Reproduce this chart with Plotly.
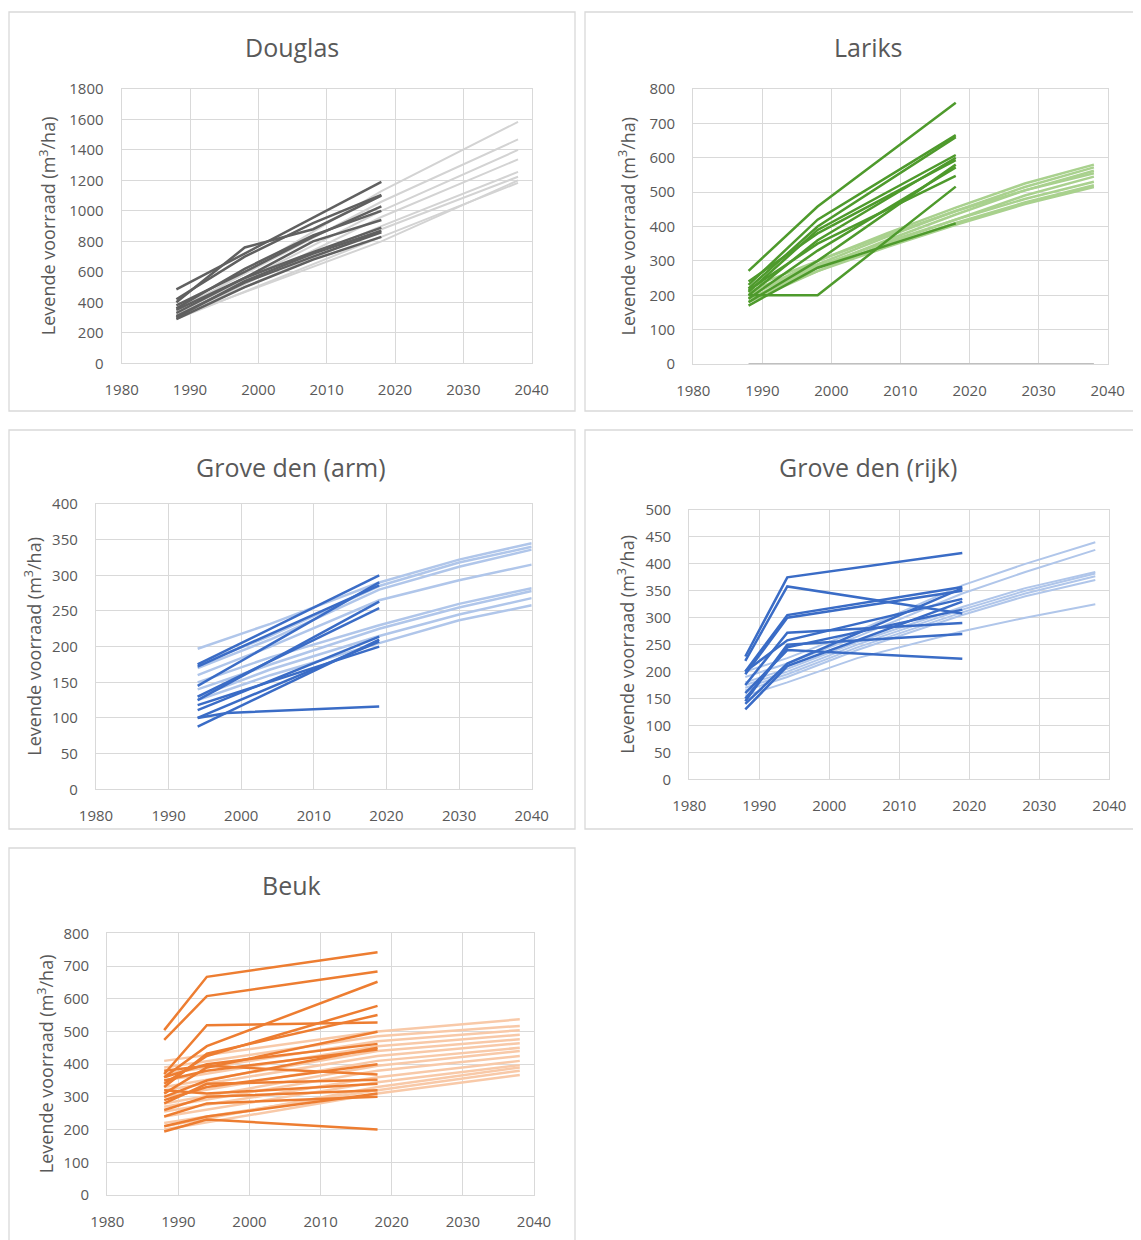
import plotly.graph_objects as go

# ---------------- DATA ----------------
# Douglas
douglas_model_years = [1988, 2018, 2038]
douglas_model = [
    [330, 1130, 1584],
    [350, 1060, 1469],
    [320, 1000, 1400],
    [300, 960, 1338],
    [340, 900, 1256],
    [310, 880, 1224],
    [290, 830, 1184],
    [300, 800, 1200],
]
douglas_meas_years = [1988, 1998, 2008, 2018]
douglas_meas = [
    [485, 720, 960, 1190],
    [420, 700, 920, 1105],
    [400, 760, 880, 1100],
    [380, 600, 830, 1030],
    [360, 620, 840, 1000],
    [350, 560, 800, 940],
    [330, 560, 730, 890],
    [310, 530, 700, 860],
    [290, 500, 680, 830],
    [300, 540, 720, 870],
]

# Lariks
lariks_model_years = [1988, 1998, 2008, 2018, 2028, 2038]
lariks_model = [
    [200, 300, 380, 455, 525, 580],
    [210, 290, 370, 445, 515, 572],
    [190, 280, 360, 435, 505, 562],
    [220, 300, 375, 445, 505, 555],
    [180, 270, 350, 420, 490, 545],
    [200, 285, 355, 420, 480, 530],
    [190, 270, 340, 405, 465, 515],
    [210, 280, 345, 410, 470, 520],
]
lariks_zero_years = [1988, 2038]
lariks_zero = [0, 0]
lariks_meas_years = [1988, 1998, 2018]
lariks_meas = [
    [271, 458, 760],
    [230, 420, 666],
    [220, 400, 660],
    [210, 390, 608],
    [200, 360, 600],
    [240, 380, 593],
    [190, 330, 572],
    [215, 350, 547],
    [200, 200, 516],
    [170, 280, 409],
    [180, 300, 580],
]

# Grove den (arm)
arm_model_years = [1994, 2004, 2019, 2030, 2040]
arm_model = [
    [197, 232, 290, 322, 345],
    [175, 215, 285, 318, 340],
    [170, 210, 280, 312, 336],
    [160, 200, 265, 293, 315],
    [150, 185, 230, 260, 282],
    [140, 175, 225, 255, 278],
    [130, 168, 215, 245, 268],
    [125, 160, 205, 237, 258],
]
arm_meas = [
    ([1994, 2019], [175, 300]),
    ([1994, 2019], [172, 286]),
    ([1994, 2019], [145, 290]),
    ([1994, 2019], [125, 263]),
    ([1994, 2019], [130, 254]),
    ([1994, 2019], [111, 214]),
    ([1994, 2019], [100, 207]),
    ([1994, 2019], [88, 210]),
    ([1994, 2019], [118, 200]),
    ([1994, 1998, 2019], [100, 107, 116]),
]

# Grove den (rijk)
rijk_model_years = [1988, 1994, 2004, 2019, 2028, 2038]
rijk_model = [
    [200, 225, 275, 360, 400, 440],
    [190, 215, 265, 345, 385, 426],
    [180, 205, 255, 320, 355, 385],
    [170, 195, 245, 310, 345, 377],
    [165, 190, 240, 305, 340, 370],
    [155, 180, 225, 275, 300, 325],
    [175, 200, 250, 315, 350, 382],
]
rijk_meas_years = [1988, 1994, 2019]
rijk_meas = [
    [228, 375, 420],
    [220, 358, 308],
    [200, 305, 357],
    [195, 300, 350],
    [175, 272, 290],
    [200, 258, 335],
    [145, 250, 270],
    [160, 240, 224],
    [140, 215, 355],
    [130, 210, 330],
    [150, 245, 315],
]

# Beuk
beuk_model_years = [1988, 2018, 2038]
beuk_model = [
    [410, 500, 537],
    [390, 485, 517],
    [370, 470, 504],
    [350, 455, 490],
    [330, 440, 476],
    [320, 425, 464],
    [300, 410, 450],
    [280, 395, 440],
    [270, 380, 425],
    [255, 360, 410],
    [240, 345, 397],
    [220, 320, 380],
    [200, 310, 367],
    [210, 330, 390],
]
beuk_meas_years = [1988, 1994, 2018]
beuk_meas = [
    [504, 667, 742],
    [474, 608, 683],
    [360, 455, 652],
    [370, 519, 527],
    [340, 425, 578],
    [330, 432, 550],
    [310, 390, 499],
    [360, 400, 462],
    [300, 350, 450],
    [350, 380, 445],
    [290, 330, 400],
    [280, 340, 352],
    [260, 300, 320],
    [240, 280, 300],
    [320, 310, 340],
    [194, 231, 200],
    [210, 240, 310],
    [380, 395, 368],
]

titles = ["Douglas", "Lariks", "Grove den (arm)", "Grove den (rijk)", "Beuk"]
y_ranges = [(0, 1800, 200), (0, 800, 100), (0, 400, 50), (0, 500, 50), (0, 800, 100)]
x_range = (1980, 2040, 10)

# ---------------- LAYOUT CONSTANTS (pixels in the page) ----------------
W, H = 1141, 1240
PAGE_OFFSET = 8  # default body margin of the html page
# plot areas: (left, right, top, bottom)
areas = [
    (121.7, 531.7, 89, 363.3),
    (693.3, 1107.7, 89, 364),
    (96, 531.7, 504, 789.3),
    (689.3, 1109.3, 510, 779.3),
    (107.3, 534, 933.3, 1195),
]
boxes = [
    (9, 575, 12, 411),
    (585, 1145, 12, 411),
    (9, 575, 430, 829),
    (585, 1145, 430, 829),
    (9, 575, 848, 1245),
]
title_pos = [(292, 47), (868, 47), (291, 467), (868, 467), (291, 885)]
ytitle_x = [48, 627, 33, 626, 46]

colors = [
    ("#606060", "#D3D3D3"),
    ("#4E9A2C", "#A9D18E"),
    ("#3A6CC6", "#B0C6EA"),
    ("#3A6CC6", "#B0C6EA"),
    ("#ED7D31", "#F8C9A8"),
]

fig = go.Figure()

def px_x(v):
    return (v - PAGE_OFFSET) / W

def px_y(v):
    return 1 - (v - PAGE_OFFSET) / H

def add_lines(idx, xs_list, ys_list, color, width):
    ax = "" if idx == 0 else str(idx + 1)
    for xs, ys in zip(xs_list, ys_list):
        fig.add_trace(go.Scatter(
            x=xs, y=ys, mode="lines",
            line=dict(color=color, width=width),
            xaxis="x" + ax, yaxis="y" + ax,
            showlegend=False, hoverinfo="skip", cliponaxis=False,
        ))

# Douglas
add_lines(0, [douglas_model_years] * len(douglas_model), douglas_model, colors[0][1], 2)
add_lines(0, [douglas_meas_years] * len(douglas_meas), douglas_meas, colors[0][0], 2.5)
# Lariks
add_lines(1, [lariks_zero_years], [lariks_zero], "#BFBFBF", 2)
add_lines(1, [lariks_model_years] * len(lariks_model), lariks_model, colors[1][1], 2.5)
add_lines(1, [lariks_meas_years] * len(lariks_meas), lariks_meas, colors[1][0], 2.5)
# Grove den arm
add_lines(2, [arm_model_years] * len(arm_model), arm_model, colors[2][1], 2.5)
add_lines(2, [m[0] for m in arm_meas], [m[1] for m in arm_meas], colors[2][0], 2.5)
# Grove den rijk
add_lines(3, [rijk_model_years] * len(rijk_model), rijk_model, colors[3][1], 2)
add_lines(3, [rijk_meas_years] * len(rijk_meas), rijk_meas, colors[3][0], 2.5)
# Beuk
add_lines(4, [beuk_model_years] * len(beuk_model), beuk_model, colors[4][1], 2.5)
add_lines(4, [beuk_meas_years] * len(beuk_meas), beuk_meas, colors[4][0], 2.5)

FONT = "Open Sans"
TXT = "#595959"
GRID = "#D9D9D9"
TICK = 15

layout = dict(
    width=W, height=H, autosize=False,
    margin=dict(l=0, r=0, t=0, b=0, pad=0, autoexpand=False),
    paper_bgcolor="white", plot_bgcolor="white",
    font=dict(family=FONT, color=TXT, size=TICK),
    showlegend=False,
)
shapes = []
annotations = []
for i in range(5):
    ax = "" if i == 0 else str(i + 1)
    l, r, t, b = areas[i]
    y0, y1, dy = y_ranges[i]
    layout["xaxis" + ax] = dict(
        domain=[max(0, px_x(l)), min(1, px_x(r))], range=[x_range[0], x_range[1]],
        dtick=x_range[2], tick0=x_range[0], anchor="y" + ax,
        showgrid=True, gridcolor=GRID, gridwidth=1.3,
        showline=True, mirror=True, linecolor=GRID, linewidth=1.3,
        zeroline=False, ticks="", automargin=False,
        tickfont=dict(size=TICK, color=TXT, family=FONT),
        ticklabelstandoff=13,
    )
    layout["yaxis" + ax] = dict(
        domain=[max(0, px_y(b)), min(1, px_y(t))], range=[y0, y1],
        dtick=dy, tick0=0, anchor="x" + ax,
        showgrid=True, gridcolor=GRID, gridwidth=1.3,
        showline=True, mirror=True, linecolor=GRID, linewidth=1.3,
        zeroline=False, ticks="", automargin=False,
        tickfont=dict(size=TICK, color=TXT, family=FONT),
        ticklabelstandoff=14,
    )
    bl, br, bt, bb = boxes[i]
    shapes.append(dict(type="rect", xref="paper", yref="paper",
                       x0=px_x(bl), x1=px_x(br), y0=px_y(bb), y1=px_y(bt),
                       line=dict(color="#D9D9D9", width=1.3), fillcolor="rgba(0,0,0,0)"))
    tx, ty = title_pos[i]
    annotations.append(dict(text=titles[i], x=px_x(tx), y=px_y(ty), xref="paper", yref="paper",
                            showarrow=False, xanchor="center", yanchor="middle",
                            font=dict(size=25, color=TXT, family=FONT)))
    annotations.append(dict(text="Levende voorraad (m<sup>3</sup>/ha)",
                            x=px_x(ytitle_x[i]), y=px_y((t + b) / 2), xref="paper", yref="paper",
                            showarrow=False, xanchor="center", yanchor="middle", textangle=-90,
                            font=dict(size=18, color=TXT, family=FONT)))

layout["shapes"] = shapes
layout["annotations"] = annotations
fig.update_layout(**layout)
fig.write_html("out.html")
